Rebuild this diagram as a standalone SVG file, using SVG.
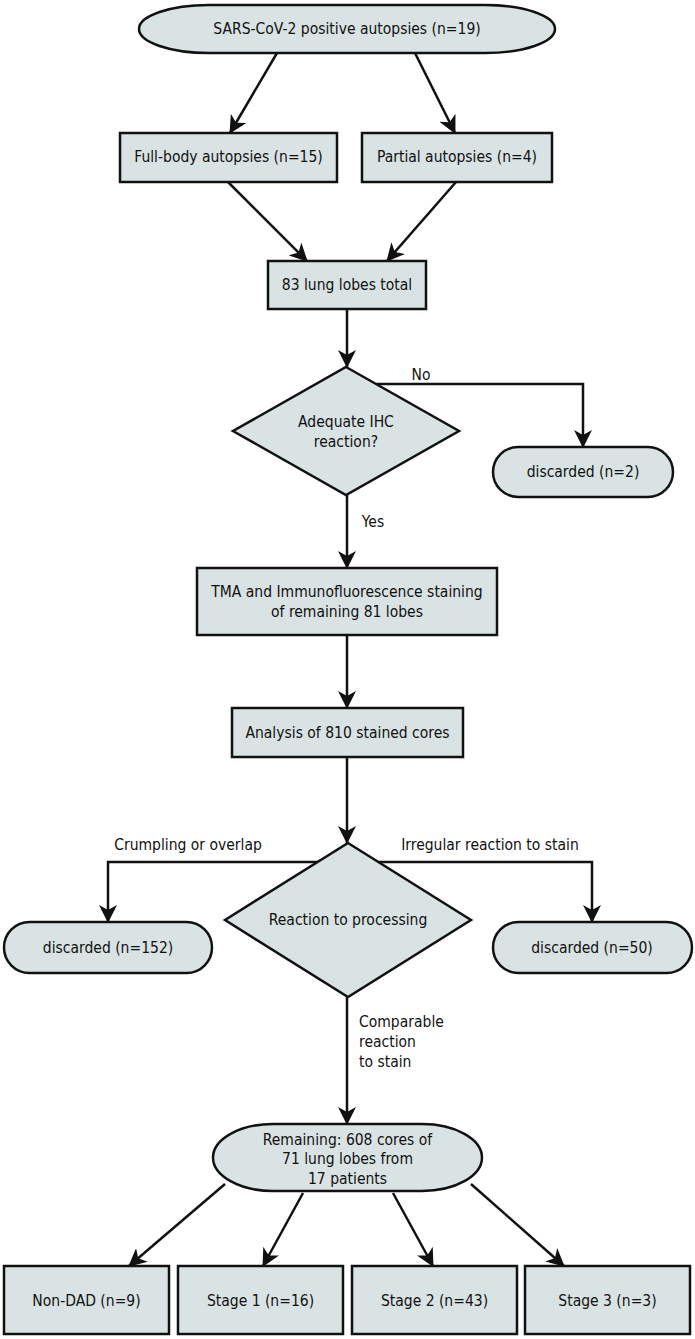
<svg xmlns="http://www.w3.org/2000/svg" width="695" height="1339" viewBox="0 0 695 1339">
<defs>
<style>
.n{fill:#d9e3e3;stroke:#111;stroke-width:2.5}
.t{font-family:"DejaVu Sans Condensed","Liberation Sans",sans-serif;font-size:15.5px;fill:#111;text-anchor:middle;dominant-baseline:central}
.l{font-family:"DejaVu Sans Condensed","Liberation Sans",sans-serif;font-size:15.5px;fill:#111;dominant-baseline:central}
.c{fill:none;stroke:#111;stroke-width:2.5}
</style>
<marker id="ah" viewBox="0 0 18 18" markerWidth="18" markerHeight="18" refX="17" refY="9" orient="auto" markerUnits="userSpaceOnUse">
<path d="M0,0 L18,9 L0,18 L5,9 z" fill="#111"/>
</marker>
</defs>
<rect width="695" height="1339" fill="#fff"/>
<g id="connectors">
<line class="c" x1="277" y1="53" x2="230" y2="133" marker-end="url(#ah)"/>
<line class="c" x1="415" y1="53" x2="455" y2="133" marker-end="url(#ah)"/>
<line class="c" x1="228" y1="182" x2="307" y2="261" marker-end="url(#ah)"/>
<line class="c" x1="456" y1="182" x2="387" y2="261" marker-end="url(#ah)"/>
<line class="c" x1="347" y1="309" x2="347" y2="367" marker-end="url(#ah)"/>
<polyline class="c" points="376,384 583,384 583,447" marker-end="url(#ah)"/>
<line class="c" x1="347" y1="495" x2="347" y2="568" marker-end="url(#ah)"/>
<line class="c" x1="347" y1="635" x2="347" y2="708" marker-end="url(#ah)"/>
<line class="c" x1="347" y1="757" x2="347" y2="843" marker-end="url(#ah)"/>
<polyline class="c" points="318,862 108,862 108,922" marker-end="url(#ah)"/>
<polyline class="c" points="378,862 592,862 592,922" marker-end="url(#ah)"/>
<line class="c" x1="347" y1="997" x2="347" y2="1124" marker-end="url(#ah)"/>
<line class="c" x1="225" y1="1184" x2="129" y2="1266" marker-end="url(#ah)"/>
<line class="c" x1="303" y1="1193" x2="263" y2="1266" marker-end="url(#ah)"/>
<line class="c" x1="393" y1="1193" x2="433" y2="1266" marker-end="url(#ah)"/>
<line class="c" x1="471" y1="1184" x2="564" y2="1266" marker-end="url(#ah)"/>
<text class="l" x="421" y="375" text-anchor="middle">No</text>
<text class="l" x="373" y="522" text-anchor="middle">Yes</text>
<text class="l" x="188" y="845" text-anchor="middle">Crumpling or overlap</text>
<text class="l" x="490" y="845" text-anchor="middle">Irregular reaction to stain</text>
<text class="l" x="359" y="1022">Comparable</text>
<text class="l" x="359" y="1042">reaction</text>
<text class="l" x="359" y="1062">to stain</text>
</g>
<g id="start">
<rect class="n" x="139" y="5" width="416" height="48" rx="70" ry="24"/>
<text class="t" x="347" y="29">SARS-CoV-2 positive autopsies (n=19)</text>
</g>
<g id="fullbody">
<rect class="n" x="120" y="133" width="217" height="49"/>
<text class="t" x="228.5" y="157">Full-body autopsies (n=15)</text>
</g>
<g id="partial">
<rect class="n" x="362" y="133" width="190" height="49"/>
<text class="t" x="457" y="157">Partial autopsies (n=4)</text>
</g>
<g id="lobes">
<rect class="n" x="268" y="261" width="158" height="48"/>
<text class="t" x="347" y="285">83 lung lobes total</text>
</g>
<g id="ihc">
<polygon class="n" points="346,367 459,431 346,495 233,431"/>
<text class="t" x="346" y="422">Adequate IHC</text>
<text class="t" x="346" y="442">reaction?</text>
</g>
<g id="discarded2">
<rect class="n" x="493" y="447" width="180" height="50" rx="25" ry="25"/>
<text class="t" x="583" y="472">discarded (n=2)</text>
</g>
<g id="tma">
<rect class="n" x="197" y="568" width="300" height="67"/>
<text class="t" x="347" y="592">TMA and Immunofluorescence staining</text>
<text class="t" x="347" y="612">of remaining 81 lobes</text>
</g>
<g id="analysis">
<rect class="n" x="232" y="708" width="231" height="49"/>
<text class="t" x="347.5" y="733">Analysis of 810 stained cores</text>
</g>
<g id="processing">
<polygon class="n" points="348,843 471,920 348,997 225,920"/>
<text class="t" x="348" y="920">Reaction to processing</text>
</g>
<g id="discarded152">
<rect class="n" x="4" y="922" width="208" height="51" rx="25.5" ry="25.5"/>
<text class="t" x="108" y="948">discarded (n=152)</text>
</g>
<g id="discarded50">
<rect class="n" x="493" y="922" width="199" height="51" rx="25.5" ry="25.5"/>
<text class="t" x="592" y="948">discarded (n=50)</text>
</g>
<g id="remaining">
<rect class="n" x="213" y="1124" width="269" height="67" rx="60" ry="33.5"/>
<text class="t" x="347.5" y="1140">Remaining: 608 cores of</text>
<text class="t" x="347.5" y="1159">71 lung lobes from</text>
<text class="t" x="347.5" y="1179">17 patients</text>
</g>
<g id="nondad">
<rect class="n" x="4" y="1266" width="165" height="68"/>
<text class="t" x="86.5" y="1301">Non-DAD (n=9)</text>
</g>
<g id="stage1">
<rect class="n" x="178" y="1266" width="165" height="68"/>
<text class="t" x="260.5" y="1301">Stage 1 (n=16)</text>
</g>
<g id="stage2">
<rect class="n" x="352" y="1266" width="165" height="68"/>
<text class="t" x="434.5" y="1301">Stage 2 (n=43)</text>
</g>
<g id="stage3">
<rect class="n" x="525" y="1266" width="165" height="68"/>
<text class="t" x="607.5" y="1301">Stage 3 (n=3)</text>
</g>
</svg>
